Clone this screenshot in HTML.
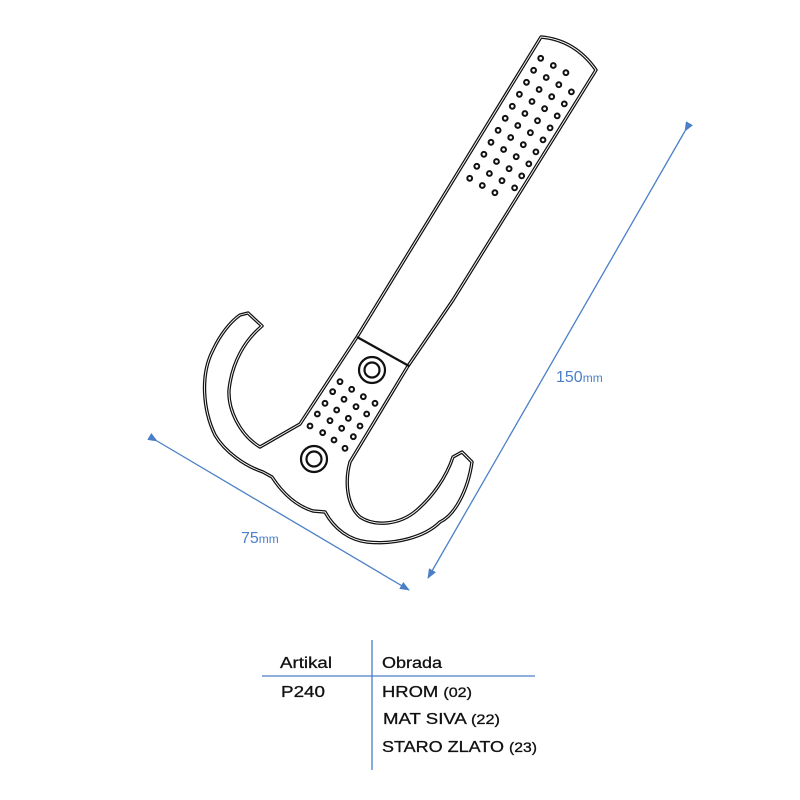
<!DOCTYPE html>
<html><head><style>
html,body{margin:0;padding:0;background:#fff;}
svg{display:block;}
text{font-family:"Liberation Sans",sans-serif;}
</style></head><body>
<svg width="800" height="800" viewBox="0 0 800 800" xmlns="http://www.w3.org/2000/svg">
<defs>
<marker id="ar" markerWidth="10" markerHeight="8" refX="9" refY="4" orient="auto" markerUnits="userSpaceOnUse">
<path d="M0,0 L10,4 L0,8 Z" fill="#4a7fc8"/>
</marker>
</defs>
<line x1="157" y1="441" x2="409" y2="590" stroke="#4a7fc8" stroke-width="1.3" marker-end="url(#ar)" marker-start="url(#ar)"/>
<line x1="685" y1="131" x2="428" y2="578" stroke="#4a7fc8" stroke-width="1.3" marker-end="url(#ar)" marker-start="url(#ar)"/>
<text x="241" y="543" font-size="16" fill="#4a7fc8">75<tspan font-size="12">mm</tspan></text>
<text x="556" y="382" font-size="16" fill="#4a7fc8">150<tspan font-size="12">mm</tspan></text>

<path d="M541,37 Q575,40 596,70 L453,300 L408,366 L350,462
C345,480 346,505 360,517 C375,527 400,525 417,510 C432,497 446,478 453,457
L462,452 L472,462
C468,490 455,515 440,522 C425,537 395,545 367,542 C350,540 335,530 325,512
L313,511 C300,507 285,497 272,477 L263,472
C245,466 225,452 215,435 C203,410 200,375 213,350 C220,335 230,322 240,315
L248,313 L262,326
C245,340 232,362 229,390 C228,410 240,435 260,447
L300,424 L357,337 Z"
fill="#fff" stroke="#111" stroke-width="3.4" stroke-linejoin="round"/>
<path d="M541,37 Q575,40 596,70 L453,300 L408,366 L350,462
C345,480 346,505 360,517 C375,527 400,525 417,510 C432,497 446,478 453,457
L462,452 L472,462
C468,490 455,515 440,522 C425,537 395,545 367,542 C350,540 335,530 325,512
L313,511 C300,507 285,497 272,477 L263,472
C245,466 225,452 215,435 C203,410 200,375 213,350 C220,335 230,322 240,315
L248,313 L262,326
C245,340 232,362 229,390 C228,410 240,435 260,447
L300,424 L357,337 Z"
fill="none" stroke="#fff" stroke-width="0.9" stroke-linejoin="round"/>
<line x1="357" y1="337" x2="409" y2="366" stroke="#111" stroke-width="2.2"/>

<circle cx="372" cy="370" r="13" fill="none" stroke="#111" stroke-width="2.2"/>
<circle cx="372" cy="370" r="7.5" fill="none" stroke="#111" stroke-width="2.2"/>
<circle cx="314" cy="459" r="13" fill="none" stroke="#111" stroke-width="2.2"/>
<circle cx="314" cy="459" r="7.5" fill="none" stroke="#111" stroke-width="2.2"/>

<g fill="none" stroke="#111" stroke-width="2" id="dots"></g>

<line x1="372" y1="640" x2="372" y2="770" stroke="#4a7fc8" stroke-width="1.3"/>
<line x1="262" y1="676" x2="535" y2="676" stroke="#4a7fc8" stroke-width="1.3"/>
<g font-size="16" fill="#111" stroke="#111" stroke-width="0.3">
<text x="280" y="668" textLength="52" lengthAdjust="spacingAndGlyphs">Artikal</text>
<text x="382" y="668" textLength="60" lengthAdjust="spacingAndGlyphs">Obrada</text>
<text x="281" y="697" textLength="44" lengthAdjust="spacingAndGlyphs">P240</text>
<text x="382" y="697" textLength="90" lengthAdjust="spacingAndGlyphs">HROM <tspan font-size="14">(02)</tspan></text>
<text x="383" y="724" textLength="117" lengthAdjust="spacingAndGlyphs">MAT SIVA <tspan font-size="14">(22)</tspan></text>
<text x="382" y="752" textLength="155" lengthAdjust="spacingAndGlyphs">STARO ZLATO <tspan font-size="14">(23)</tspan></text>
</g>
</svg>
<script>
var g=document.getElementById('dots'),ns="http://www.w3.org/2000/svg";
function dot(x,y){var c=document.createElementNS(ns,'circle');c.setAttribute('cx',x);c.setAttribute('cy',y);c.setAttribute('r',2.4);g.appendChild(c);}
var ox=540.7,oy=58.3,ax=-7.1,ay=12.0,bx=12.6,by=7.2;
for(var i=0;i<11;i++)for(var j=0;j<4;j++){
 if(i===0&&j>2)continue;
 if(i>=10&&j>2)continue;
 dot(ox+i*ax+j*bx,oy+i*ay+j*by);
}
var pd=[[420,245],[398,275],[455,268],[490,290],[375,310],[432,298],[468,320],[525,310],[352,342],[410,330],[445,355],[500,342],[330,378],[390,362],[425,385],[480,378],[368,398],[402,420],[460,410],[435,445]];
pd.forEach(function(p){dot(p[0]/3+200,p[1]/3+300);});
</script>
</body></html>
